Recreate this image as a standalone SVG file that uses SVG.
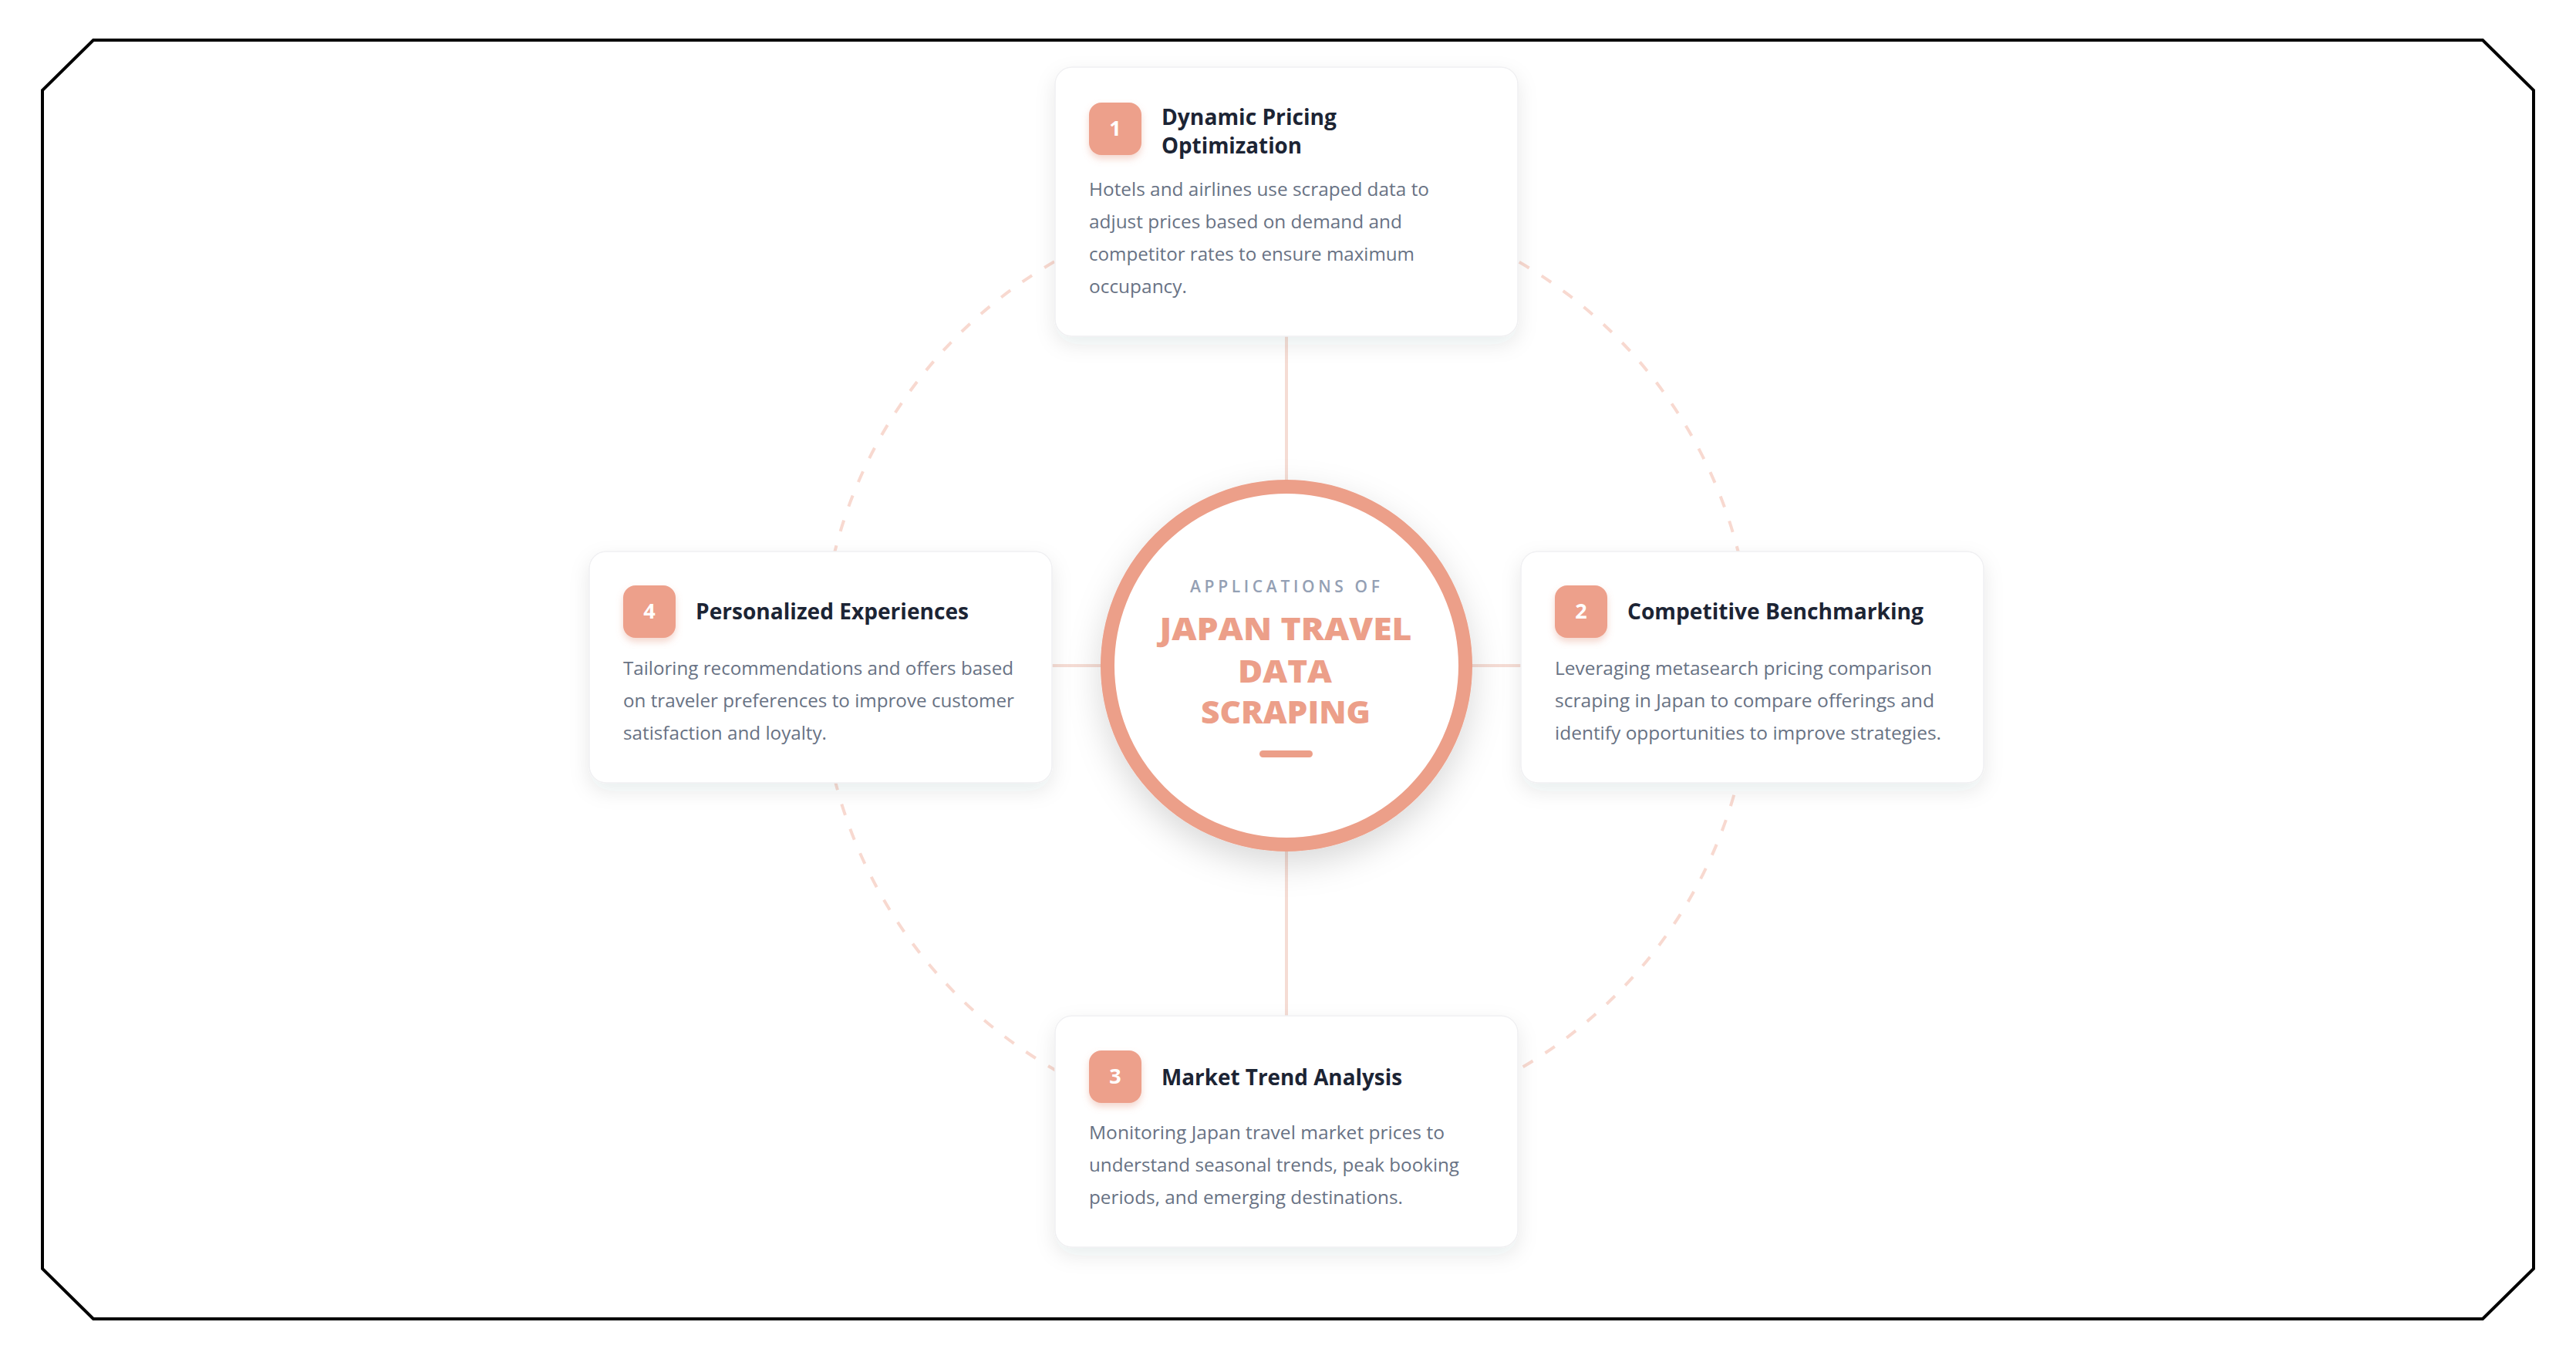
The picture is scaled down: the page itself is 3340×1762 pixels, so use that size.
<svg xmlns="http://www.w3.org/2000/svg" width="3340" height="1762" viewBox="0 0 3340 1762">
  <defs>
    <filter id="cardShadow" x="-10%" y="-15%" width="120%" height="140%">
      <feDropShadow dx="0" dy="10" stdDeviation="13" flood-color="#1f2937" flood-opacity="0.09"/>
    </filter>
    <filter id="badgeShadow" x="-30%" y="-30%" width="160%" height="170%">
      <feDropShadow dx="0" dy="5" stdDeviation="5" flood-color="#e08a72" flood-opacity="0.35"/>
    </filter>
    <filter id="hubShadow" x="-30%" y="-30%" width="160%" height="170%">
      <feDropShadow dx="0" dy="16" stdDeviation="22" flood-color="#000" flood-opacity="0.15"/>
    </filter>
    <style>
      .card { fill:#ffffff; stroke:#f0f0f2; stroke-width:1.5; filter:url(#cardShadow); }
      .badge { fill:#eda08b; filter:url(#badgeShadow); }
      .num { font-family:'Open Sans','Noto Sans',sans-serif; font-weight:700; font-size:27px; fill:#ffffff; text-anchor:middle; }
      .title { font-family:'Open Sans','Noto Sans',sans-serif; font-weight:700; font-size:28px; fill:#1c2434; }
      .desc { font-family:'Open Sans','Noto Sans',sans-serif; font-weight:400; font-size:24px; fill:#687284; }
      .conn { stroke:#f5dcd4; stroke-width:4; fill:none; }
      .orbit { stroke:#f8d9d0; stroke-width:4; fill:none; stroke-dasharray:15 19; }
      .hubsub { font-family:'Open Sans','Noto Sans',sans-serif; font-weight:600; font-size:21px; fill:#94a0b4; text-anchor:middle; }
      .hubtitle { font-family:'Open Sans','Noto Sans',sans-serif; font-weight:800; font-size:40px; fill:#ec9f89; text-anchor:middle; }
    </style>
  </defs>

  <rect x="0" y="0" width="3340" height="1762" fill="#ffffff"/>

  <!-- outer frame -->
  <polygon points="121,52 3219,52 3285,117 3285,1645 3219,1710 121,1710 55,1645 55,117" fill="none" stroke="#000000" stroke-width="4"/>

  <!-- dashed orbit -->
  <circle class="orbit" cx="1668" cy="863" r="604"/>

  <!-- connectors -->
  <g id="connectors">
    <line class="conn" x1="1668" y1="436" x2="1668" y2="1317"/>
    <line class="conn" x1="1364" y1="863" x2="1972" y2="863"/>
  </g>

  <!-- central hub -->
  <g id="hub">
    <circle cx="1668" cy="863" r="232" fill="#ffffff" stroke="#ec9f89" stroke-width="18" filter="url(#hubShadow)"/>
    <text class="hubsub" x="1666" y="768" textLength="246" lengthAdjust="spacing">APPLICATIONS OF</text>
    <text class="hubtitle" x="1667" y="830" textLength="327" lengthAdjust="spacingAndGlyphs">JAPAN TRAVEL</text>
    <text class="hubtitle" x="1666" y="885" textLength="122" lengthAdjust="spacingAndGlyphs">DATA</text>
    <text class="hubtitle" x="1667" y="938" textLength="220" lengthAdjust="spacingAndGlyphs">SCRAPING</text>
    <rect x="1633" y="973" width="69" height="9" rx="4.5" fill="#ec9f89"/>
  </g>

  <!-- card 1 -->
  <g id="card-1">
    <rect class="card" x="1368" y="87" width="600" height="349" rx="22"/>
    <rect class="badge" x="1412" y="133" width="68" height="68" rx="16"/>
    <text class="num" x="1446" y="176">1</text>
    <text class="title" x="1506" y="162" textLength="227" lengthAdjust="spacingAndGlyphs">Dynamic Pricing</text>
    <text class="title" x="1506" y="199" textLength="182" lengthAdjust="spacingAndGlyphs">Optimization</text>
    <text class="desc" x="1412" y="254" textLength="441" lengthAdjust="spacingAndGlyphs">Hotels and airlines use scraped data to</text>
    <text class="desc" x="1412" y="296" textLength="406" lengthAdjust="spacingAndGlyphs">adjust prices based on demand and</text>
    <text class="desc" x="1412" y="338" textLength="422" lengthAdjust="spacingAndGlyphs">competitor rates to ensure maximum</text>
    <text class="desc" x="1412" y="380" textLength="127" lengthAdjust="spacingAndGlyphs">occupancy.</text>
  </g>

  <!-- card 2 -->
  <g id="card-2">
    <rect class="card" x="1972" y="715" width="600" height="300" rx="22"/>
    <rect class="badge" x="2016" y="759" width="68" height="68" rx="16"/>
    <text class="num" x="2050" y="802">2</text>
    <text class="title" x="2110" y="803" textLength="384" lengthAdjust="spacingAndGlyphs">Competitive Benchmarking</text>
    <text class="desc" x="2016" y="875" textLength="489" lengthAdjust="spacingAndGlyphs">Leveraging metasearch pricing comparison</text>
    <text class="desc" x="2016" y="917" textLength="492" lengthAdjust="spacingAndGlyphs">scraping in Japan to compare offerings and</text>
    <text class="desc" x="2016" y="959" textLength="501" lengthAdjust="spacingAndGlyphs">identify opportunities to improve strategies.</text>
  </g>

  <!-- card 3 -->
  <g id="card-3">
    <rect class="card" x="1368" y="1317" width="600" height="300" rx="22"/>
    <rect class="badge" x="1412" y="1362" width="68" height="68" rx="16"/>
    <text class="num" x="1446" y="1405">3</text>
    <text class="title" x="1506" y="1407" textLength="312" lengthAdjust="spacingAndGlyphs">Market Trend Analysis</text>
    <text class="desc" x="1412" y="1477" textLength="461" lengthAdjust="spacingAndGlyphs">Monitoring Japan travel market prices to</text>
    <text class="desc" x="1412" y="1519" textLength="480" lengthAdjust="spacingAndGlyphs">understand seasonal trends, peak booking</text>
    <text class="desc" x="1412" y="1561" textLength="407" lengthAdjust="spacingAndGlyphs">periods, and emerging destinations.</text>
  </g>

  <!-- card 4 -->
  <g id="card-4">
    <rect class="card" x="764" y="715" width="600" height="300" rx="22"/>
    <rect class="badge" x="808" y="759" width="68" height="68" rx="16"/>
    <text class="num" x="842" y="802">4</text>
    <text class="title" x="902" y="803" textLength="354" lengthAdjust="spacingAndGlyphs">Personalized Experiences</text>
    <text class="desc" x="808" y="875" textLength="506" lengthAdjust="spacingAndGlyphs">Tailoring recommendations and offers based</text>
    <text class="desc" x="808" y="917" textLength="507" lengthAdjust="spacingAndGlyphs">on traveler preferences to improve customer</text>
    <text class="desc" x="808" y="959" textLength="264" lengthAdjust="spacingAndGlyphs">satisfaction and loyalty.</text>
  </g>
</svg>
